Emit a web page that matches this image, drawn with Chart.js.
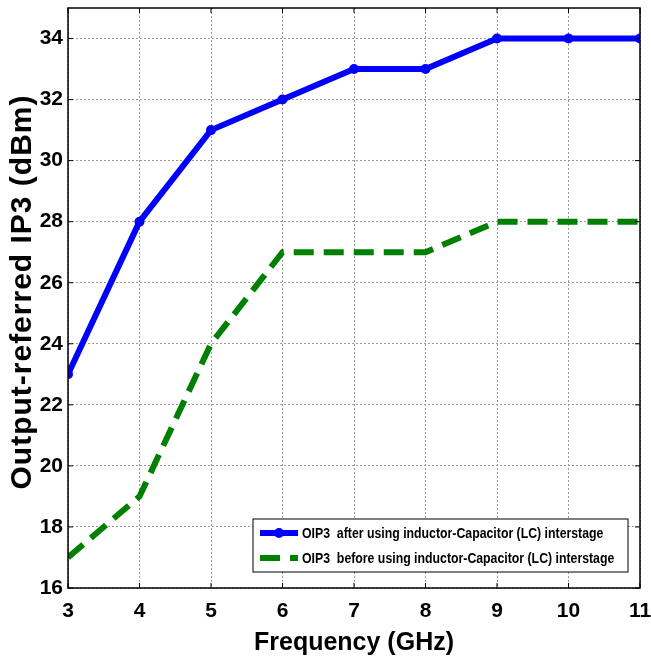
<!DOCTYPE html>
<html>
<head>
<meta charset="utf-8">
<script src="https://cdn.jsdelivr.net/npm/chart.js@4.4.0/dist/chart.umd.min.js"></script>
<style>
  html, body { margin: 0; padding: 0; background: #fff; }
  #wrap { width: 651px; height: 664px; }
</style>
</head>
<body>
<div id="wrap"><canvas id="myChart" width="651" height="664"></canvas></div>
<script>
const frequencies = [3, 4, 5, 6, 7, 8, 9, 10, 11];
const oip3After = [23, 28, 31, 32, 33, 33, 34, 34, 34];
const oip3Before = [17, 19, 24, 27, 27, 27, 28, 28, 28];
const yTicks = [16, 18, 20, 22, 24, 26, 28, 30, 32, 34];
const seriesNames = [
    'OIP3  after using inductor-Capacitor (LC) interstage',
    'OIP3  before using inductor-Capacitor (LC) interstage'
];
const yTitle = 'Output-referred IP3 (dBm)';

const font = '"Liberation Sans", Arial, sans-serif';

// box, inward ticks, y title and legend drawn like matlab does
const boxPlugin = {
    id: 'boxPlugin',
    afterDraw(chart) {
        const { ctx, chartArea: a, scales } = chart;
        ctx.save();
        ctx.strokeStyle = '#000';
        ctx.lineWidth = 1.5;
        ctx.strokeRect(a.left, a.top, a.right - a.left, a.bottom - a.top);

        ctx.lineWidth = 1;
        frequencies.forEach(f => {
            const x = scales.x.getPixelForValue(f);
            ctx.beginPath();
            ctx.moveTo(x, a.top); ctx.lineTo(x, a.top + 5);
            ctx.moveTo(x, a.bottom); ctx.lineTo(x, a.bottom - 5);
            ctx.stroke();
        });
        yTicks.forEach(t => {
            const y = scales.y.getPixelForValue(t);
            ctx.beginPath();
            ctx.moveTo(a.left, y); ctx.lineTo(a.left + 5, y);
            ctx.moveTo(a.right, y); ctx.lineTo(a.right - 5, y);
            ctx.stroke();
        });

        // y title
        ctx.save();
        ctx.translate(23, (a.top + a.bottom) / 2 - 6);
        ctx.rotate(-Math.PI / 2);
        ctx.font = 'bold 30px ' + font;
        ctx.letterSpacing = '1px';
        ctx.textAlign = 'center';
        ctx.textBaseline = 'middle';
        ctx.fillStyle = '#000';
        ctx.fillText(yTitle, 0, 0);
        ctx.restore();

        // legend
        const bx = a.right - 387, by = a.bottom - 69, bw = 375, bh = 53;
        ctx.fillStyle = '#fff';
        ctx.fillRect(bx, by, bw, bh);
        ctx.strokeStyle = '#000';
        ctx.lineWidth = 1;
        ctx.strokeRect(bx, by, bw, bh);
        ctx.textBaseline = 'middle';
        chart.data.datasets.forEach((ds, i) => {
            const y = by + 14 + i * 25;
            ctx.strokeStyle = ds.borderColor;
            ctx.lineWidth = 6;
            ctx.setLineDash(ds.borderDash || []);
            ctx.beginPath();
            ctx.moveTo(bx + 7, y);
            ctx.lineTo(bx + 45, y);
            ctx.stroke();
            ctx.setLineDash([]);
            if (ds.pointRadius > 0) {
                ctx.fillStyle = ds.borderColor;
                ctx.beginPath();
                ctx.arc(bx + 26, y, 5, 0, Math.PI * 2);
                ctx.fill();
            }
            ctx.save();
            ctx.translate(bx + 49, y);
            ctx.scale(0.82, 1);
            ctx.font = 'bold 15px ' + font;
            ctx.fillStyle = '#000';
            ctx.fillText(ds.label, 0, 1);
            ctx.restore();
        });
        ctx.restore();
    }
};

const ctx = document.getElementById('myChart').getContext('2d');

new Chart(ctx, {
    type: 'line',
    data: {
        datasets: [{
            label: seriesNames[0],
            data: frequencies.map((f, i) => ({ x: f, y: oip3After[i] })),
            borderColor: '#0000ff',
            backgroundColor: '#0000ff',
            borderWidth: 6,
            pointRadius: 5,
            pointBorderWidth: 0,
            tension: 0
        }, {
            label: seriesNames[1],
            data: frequencies.map((f, i) => ({ x: f, y: oip3Before[i] })),
            borderColor: '#008000',
            backgroundColor: '#008000',
            borderWidth: 6,
            borderDash: [20, 10],
            pointRadius: 0,
            tension: 0
        }]
    },
    options: {
        responsive: false,
        animation: false,
        layout: { padding: { top: 8, right: 11, left: 0, bottom: 0 } },
        plugins: {
            legend: { display: false },
            tooltip: { enabled: false }
        },
        scales: {
            x: {
                type: 'linear',
                min: 3,
                max: 11,
                afterBuildTicks: axis => { axis.ticks = frequencies.map(v => ({ value: v })); },
                afterFit: axis => {
                    axis.height = 76;
                    axis.paddingLeft = 0;
                    axis.paddingRight = 0;
                },
                ticks: {
                    color: '#000',
                    padding: 11,
                    font: { family: font, size: 21, weight: 'bold' }
                },
                grid: { color: '#999', lineWidth: 1, drawTicks: false },
                border: { display: false, dash: [2, 2] },
                title: {
                    display: true,
                    text: 'Frequency (GHz)',
                    color: '#000',
                    padding: { top: 2, bottom: 6 },
                    font: { family: font, size: 25, weight: 'bold' }
                }
            },
            y: {
                min: 16,
                max: 35,
                afterBuildTicks: axis => { axis.ticks = yTicks.map(v => ({ value: v })); },
                afterFit: axis => {
                    axis.width = 68;
                    axis.paddingTop = 0;
                    axis.paddingBottom = 0;
                },
                ticks: {
                    color: '#000',
                    padding: 5,
                    font: { family: font, size: 21, weight: 'bold' }
                },
                grid: { color: '#999', lineWidth: 1, drawTicks: false },
                border: { display: false, dash: [2, 2] }
            }
        }
    },
    plugins: [boxPlugin]
});
</script>
</body>
</html>
